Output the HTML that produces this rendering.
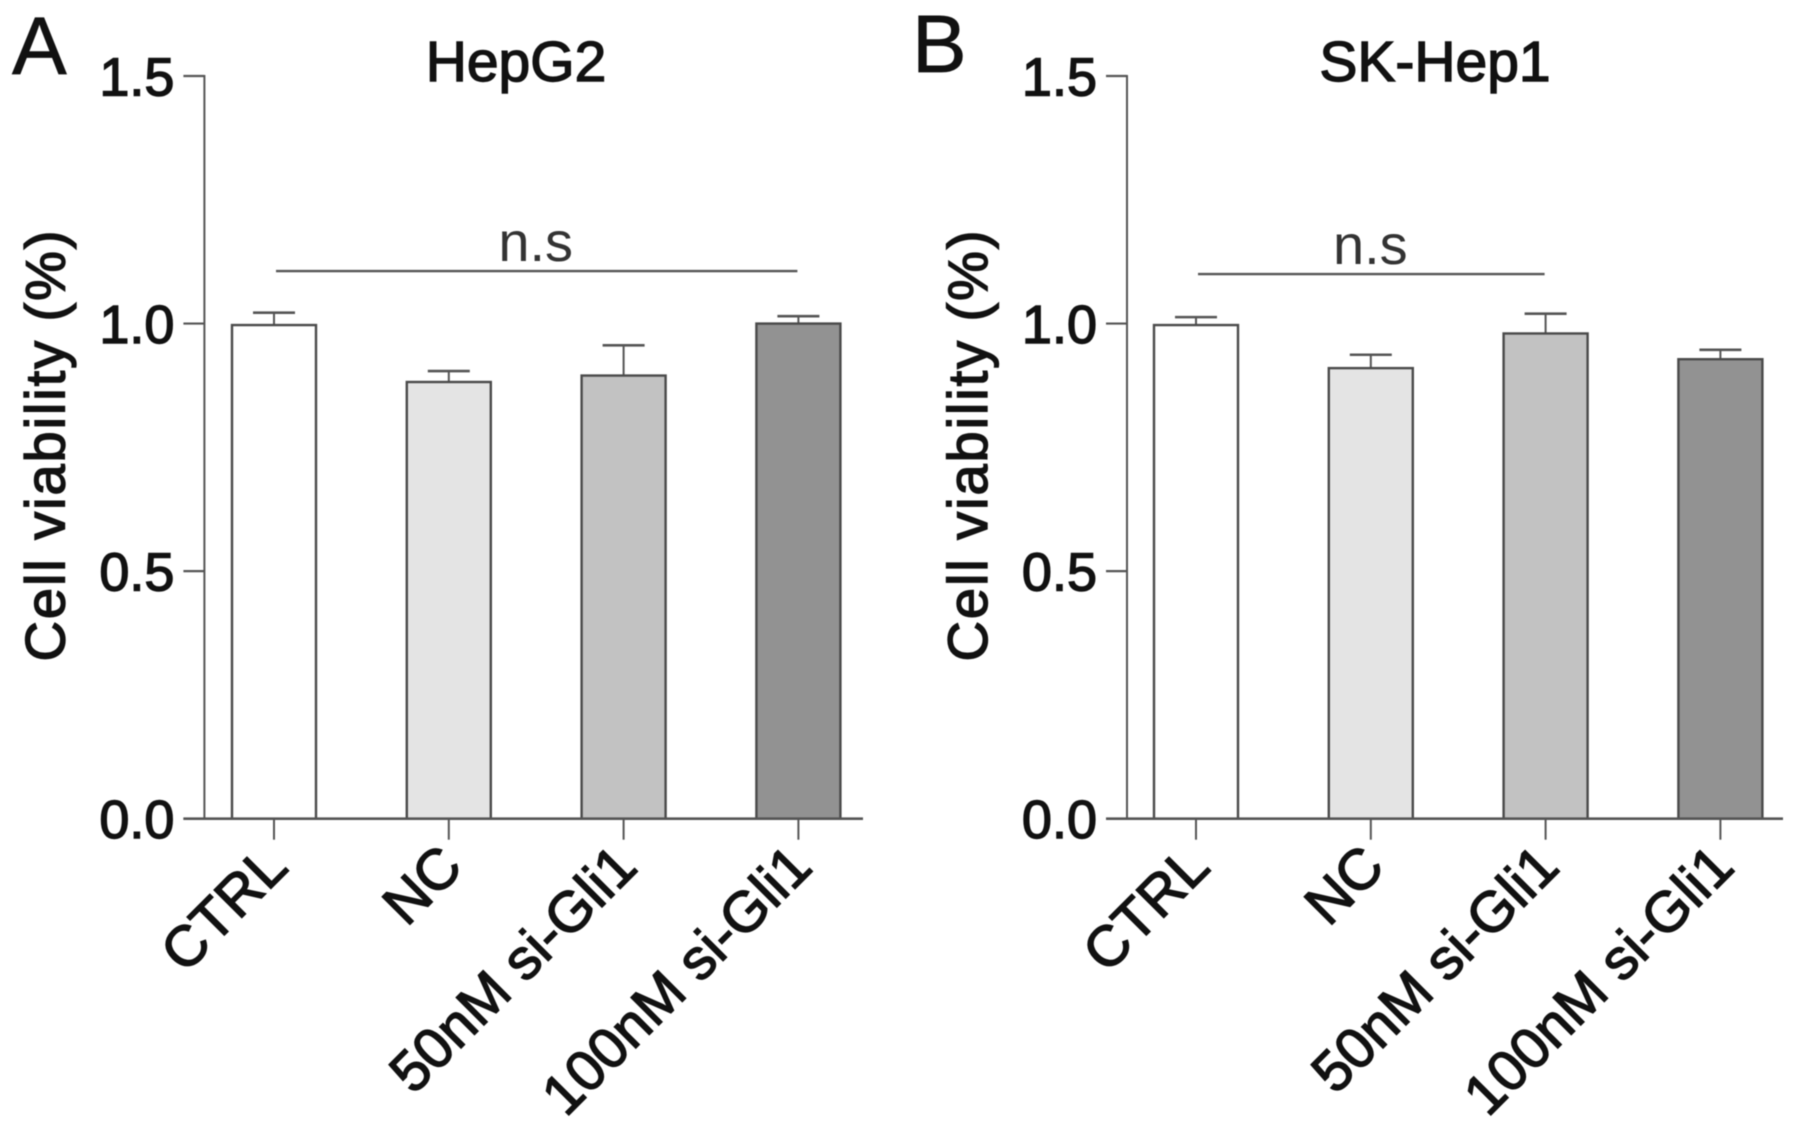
<!DOCTYPE html>
<html lang="en">
<head>
<meta charset="utf-8">
<title>Cell viability: HepG2 and SK-Hep1</title>
<style>
  html, body { margin: 0; padding: 0; background: #fff; }
  svg { display: block; filter: blur(0.5px); }
  text { font-family: "Liberation Sans", Arial, sans-serif; fill: #111; }
  .heavy { stroke: #111; stroke-width: 1.4px; }
  .tick-text { font-size: 54px; }
  .cat-text { font-size: 57px; }
  .title-text { font-size: 57px; text-anchor: middle; }
  .axis-title { font-size: 56px; text-anchor: middle; }
  .letter { font-size: 82px; stroke: #111; stroke-width: 0.7px; }
  .ns { font-size: 56px; text-anchor: middle; fill: #333; }
</style>
</head>
<body>
<svg id="figure" width="1795" height="1130" viewBox="0 0 1795 1130" xmlns="http://www.w3.org/2000/svg">
  <rect width="1795" height="1130" fill="#fff"/>
  <g id="panel-a">
    <text class="letter" x="12" y="74">A</text>
    <text class="title-text heavy" x="516" y="81">HepG2</text>
    <text class="axis-title heavy" transform="translate(64.3 446) rotate(-90)" textLength="431" lengthAdjust="spacing">Cell viability (%)</text>
  </g>
  <g id="panel-b">
    <text class="letter" x="912" y="72">B</text>
    <text class="title-text heavy" x="1435" y="81">SK-Hep1</text>
    <text class="axis-title heavy" transform="translate(987 446) rotate(-90)" textLength="431" lengthAdjust="spacing">Cell viability (%)</text>
  </g>
</svg>
<script>
const categories = ['CTRL', 'NC', '50nM si-Gli1', '100nM si-Gli1'];
const yTicks = [0, 0.5, 1, 1.5];
const yTickLabels = ['0.0', '0.5', '1.0', '1.5'];
const hepg2Means = [0.997, 0.882, 0.895, 1.0];
const hepg2ErrorTops = [1.022, 0.904, 0.956, 1.015];
const hepg2Sig = { from: 0, to: 3, level: 1.106, label: 'n.s' };
const skhep1Means = [0.997, 0.91, 0.98, 0.928];
const skhep1ErrorTops = [1.013, 0.937, 1.02, 0.947];
const skhep1Sig = { from: 0, to: 2, level: 1.1, label: 'n.s' };
const barFills = ['#ffffff', '#e4e4e4', '#c2c2c2', '#929292'];

const SVG_NS = 'http://www.w3.org/2000/svg';
const Y_ZERO = 818.7;
const Y_MAX = 76;
const Y_DOMAIN_MAX = 1.5;

function yScale(v) {
  return Y_ZERO - (v / Y_DOMAIN_MAX) * (Y_ZERO - Y_MAX);
}

function make(tag, attrs, parent, text) {
  const node = document.createElementNS(SVG_NS, tag);
  for (const key in attrs) node.setAttribute(key, attrs[key]);
  if (text !== undefined) node.textContent = text;
  parent.appendChild(node);
  return node;
}

function drawPanel(group, layout, means, errorTops, sig) {
  const xScale = function (i) { return layout.firstCenter + i * layout.step; };
  const axisColor = '#555';

  means.forEach(function (value, i) {
    const cx = xScale(i);
    const stem = make('line', { x1: cx, x2: cx, y1: yScale(errorTops[i]), y2: yScale(value), stroke: '#555', 'stroke-width': 2 }, group);
    
    
    const cap = make('line', { x1: cx - 21, x2: cx + 21, y1: yScale(errorTops[i]), y2: yScale(errorTops[i]), stroke: '#555', 'stroke-width': 2.6 }, group);
    
    
    const bar = make('rect', { x: cx - 42, y: yScale(value), width: 84, height: Y_ZERO - yScale(value), fill: barFills[i], stroke: '#4a4a4a', 'stroke-width': 2.4 }, group);
    
    
  });

  const yAxis = make('line', { x1: layout.axisX, x2: layout.axisX, y1: yScale(Y_DOMAIN_MAX) - 1, y2: Y_ZERO, stroke: axisColor, 'stroke-width': 2 }, group);
  
  
  const xAxis = make('line', { x1: layout.axisX - 21, x2: layout.axisEnd, y1: Y_ZERO, y2: Y_ZERO, stroke: axisColor, 'stroke-width': 2.6 }, group);
  
  

  yTicks.forEach(function (tick, i) {
    const mark = make('line', { x1: layout.axisX - 21, x2: layout.axisX, y1: yScale(tick), y2: yScale(tick), stroke: axisColor, 'stroke-width': 2.2 }, group);
    
    
    const label = make('text', { x: layout.axisX - 30, y: yScale(tick) + 19.5, 'text-anchor': 'end', class: 'tick-text heavy' }, group, yTickLabels[i]);
    
    
  });

  categories.forEach(function (name, i) {
    const cx = xScale(i);
    const mark = make('line', { x1: cx, x2: cx, y1: Y_ZERO, y2: Y_ZERO + 21, stroke: axisColor, 'stroke-width': 2 }, group);
    
    
    const lx = cx + 16;
    const ly = 869.5;
    const label = make('text', { x: 0, y: 0, 'text-anchor': 'end', transform: 'translate(' + lx + ' ' + ly + ') rotate(-45)', class: 'cat-text heavy' }, group, name);
    
    
  });

  const sigY = yScale(sig.level);
  const sigLine = make('line', { x1: xScale(sig.from) + 2, x2: xScale(sig.to) - 1, y1: sigY, y2: sigY, stroke: '#555', 'stroke-width': 2.4 }, group);
  
  
  const sigLabel = make('text', { x: (xScale(sig.from) + xScale(sig.to)) / 2 - 0.5, y: sigY - 10, class: 'ns' }, group, sig.label);
  
  
}

drawPanel(document.getElementById('panel-a'), { firstCenter: 274, step: 174.8, axisX: 204.4, axisEnd: 863 }, hepg2Means, hepg2ErrorTops, hepg2Sig);
drawPanel(document.getElementById('panel-b'), { firstCenter: 1196, step: 174.8, axisX: 1127, axisEnd: 1783 }, skhep1Means, skhep1ErrorTops, skhep1Sig);
</script>
</body>
</html>
